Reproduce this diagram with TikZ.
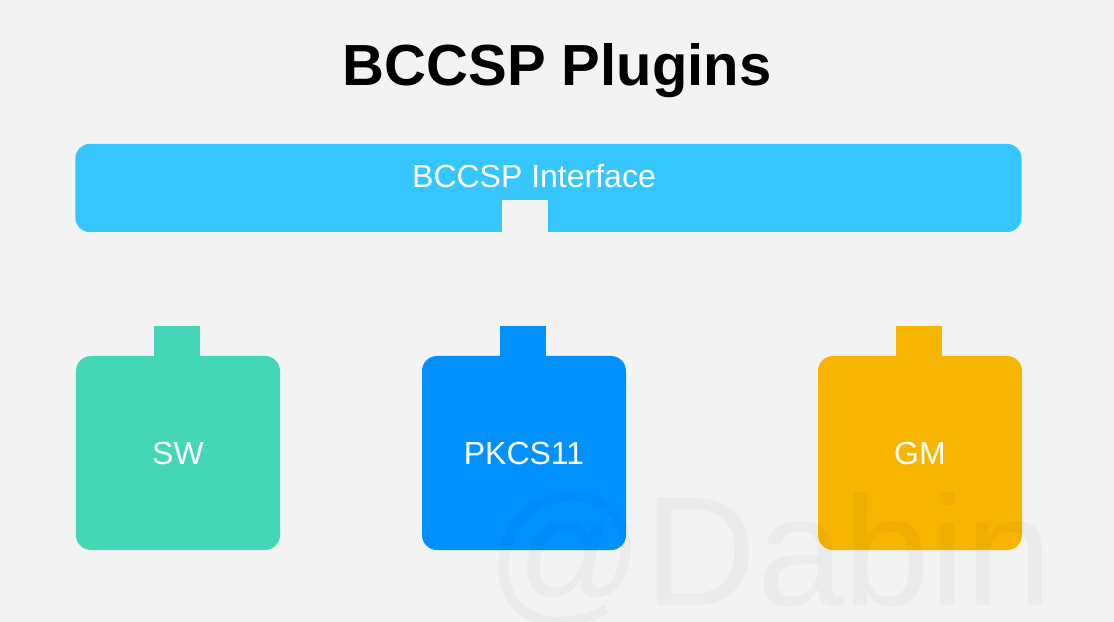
\documentclass[tikz,border=0pt]{standalone}
\usepackage{fontspec}
\setmainfont{Liberation Sans}
\definecolor{bgcol}{HTML}{F3F3F3}
\definecolor{ifacecol}{HTML}{35C5FF}
\definecolor{swcol}{HTML}{44D7B6}
\definecolor{pkcscol}{HTML}{0091FF}
\definecolor{gmcol}{HTML}{F7B500}
\begin{document}
\begin{tikzpicture}[x=1bp,y=-1bp]
\tikzstyle{every node}+=[inner sep=0pt]
\tikzstyle{plugin}=[rounded corners=15bp, minimum width=204bp, minimum height=194bp, text=white, font=\fontsize{32bp}{38bp}\selectfont]
\fill [bgcol] (0,0) rectangle (1114,622);
\useasboundingbox (0,0) rectangle (1114,622);
\draw (557,86) node [anchor=base, font=\fontsize{58bp}{68bp}\selectfont\bfseries] (title) {BCCSP Plugins};
\draw (548.5,188) node [fill=ifacecol, rounded corners=14bp, minimum width=946bp, minimum height=88bp] (iface) {};
\draw (534,176.5) node [text=white, font=\fontsize{32bp}{38bp}\selectfont] (ifacelabel) {BCCSP Interface};
\fill [bgcol] (502,200) rectangle (548,233);
\fill [swcol] (154,326) rectangle (200,360);
\draw (178,453) node [plugin, fill=swcol] (sw) {SW};
\fill [pkcscol] (500,326) rectangle (546,360);
\draw (524,453) node [plugin, fill=pkcscol] (pkcs) {PKCS11};
\fill [gmcol] (896,326) rectangle (942,360);
\draw (920,453) node [plugin, fill=gmcol] (gm) {GM};
\draw (486,605) node [anchor=base west, text=black, text opacity=0.03, font=\fontsize{156bp}{168bp}\selectfont] (mark) {@Dabin};
\end{tikzpicture}
\end{document}
